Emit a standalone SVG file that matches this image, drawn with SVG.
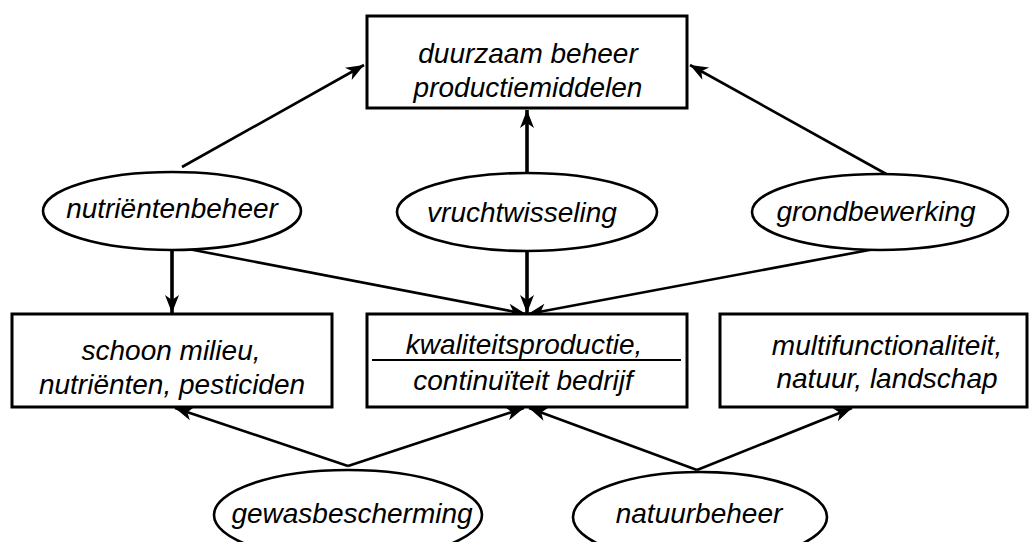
<svg xmlns="http://www.w3.org/2000/svg" width="1029" height="542" viewBox="0 0 1029 542">
<style>
.box{fill:#fff;stroke:#000;stroke-width:3}
.ell{fill:#fff;stroke:#000;stroke-width:2.6}
.t{font-family:"Liberation Sans",Arial,sans-serif;font-style:italic;font-size:28px;fill:#000;text-anchor:middle}
.c{fill:none;stroke:#000;stroke-width:2.6}
.v{fill:none;stroke:#000;stroke-width:3.6}
</style>
<defs>
<marker id="ah" markerUnits="userSpaceOnUse" markerWidth="20" markerHeight="16" refX="18" refY="7" orient="auto" overflow="visible">
<path d="M0,0 L18,7 L0,14 L5,7 z" fill="#000"/>
</marker>
</defs>
<rect width="1029" height="542" fill="#fff"/>
<g id="connectors">
<path class="c" d="M182,167 L364,65" marker-end="url(#ah)"/>
<path class="v" d="M527,175 L527,110" marker-end="url(#ah)"/>
<path class="c" d="M888,175 L690,65" marker-end="url(#ah)"/>
<path class="v" d="M172,246 L172,313" marker-end="url(#ah)"/>
<path class="c" d="M172,247 L178,247 L526,314" marker-end="url(#ah)"/>
<path class="v" d="M527,247 L527,313" marker-end="url(#ah)"/>
<path class="c" d="M880,248 L528,314" marker-end="url(#ah)"/>
<path class="c" d="M348,466 L175,408" marker-end="url(#ah)"/>
<path class="c" d="M348,466 L524,408" marker-end="url(#ah)"/>
<path class="c" d="M697,470 L529,408" marker-end="url(#ah)"/>
<path class="c" d="M697,470 L852,408" marker-end="url(#ah)"/>
</g>
<g id="duurzaam">
<rect class="box" x="367" y="16" width="320" height="92"/>
<text class="t" x="528" y="63">duurzaam beheer</text>
<text class="t" x="528" y="97">productiemiddelen</text>
</g>
<g id="nutrientenbeheer">
<ellipse class="ell" cx="172" cy="211" rx="129" ry="39"/>
<text class="t" x="172" y="218">nutriëntenbeheer</text>
</g>
<g id="vruchtwisseling">
<ellipse class="ell" cx="527" cy="212" rx="130" ry="39"/>
<text class="t" x="522" y="222">vruchtwisseling</text>
</g>
<g id="grondbewerking">
<ellipse class="ell" cx="880" cy="212" rx="128" ry="38"/>
<text class="t" x="876" y="221">grondbewerking</text>
</g>
<g id="schoon">
<rect class="box" x="12" y="314" width="320" height="93"/>
<text class="t" x="171" y="360">schoon milieu,</text>
<text class="t" x="172" y="394">nutriënten, pesticiden</text>
</g>
<g id="kwaliteit">
<rect class="box" x="367" y="314" width="320" height="93"/>
<text class="t" x="524" y="354">kwaliteitsproductie,</text>
<line x1="372" y1="360" x2="681" y2="360" stroke="#000" stroke-width="2"/>
<text class="t" x="523" y="390">continuïteit bedrijf</text>
</g>
<g id="multi">
<rect class="box" x="720" y="314" width="307" height="93"/>
<text class="t" x="887" y="355">multifunctionaliteit,</text>
<text class="t" x="887" y="388">natuur, landschap</text>
</g>
<g id="gewasbescherming">
<ellipse class="ell" cx="348" cy="515" rx="134" ry="45"/>
<text class="t" x="352" y="523">gewasbescherming</text>
</g>
<g id="natuurbeheer">
<ellipse class="ell" cx="700" cy="517" rx="127" ry="45"/>
<text class="t" x="699" y="523">natuurbeheer</text>
</g>
</svg>
